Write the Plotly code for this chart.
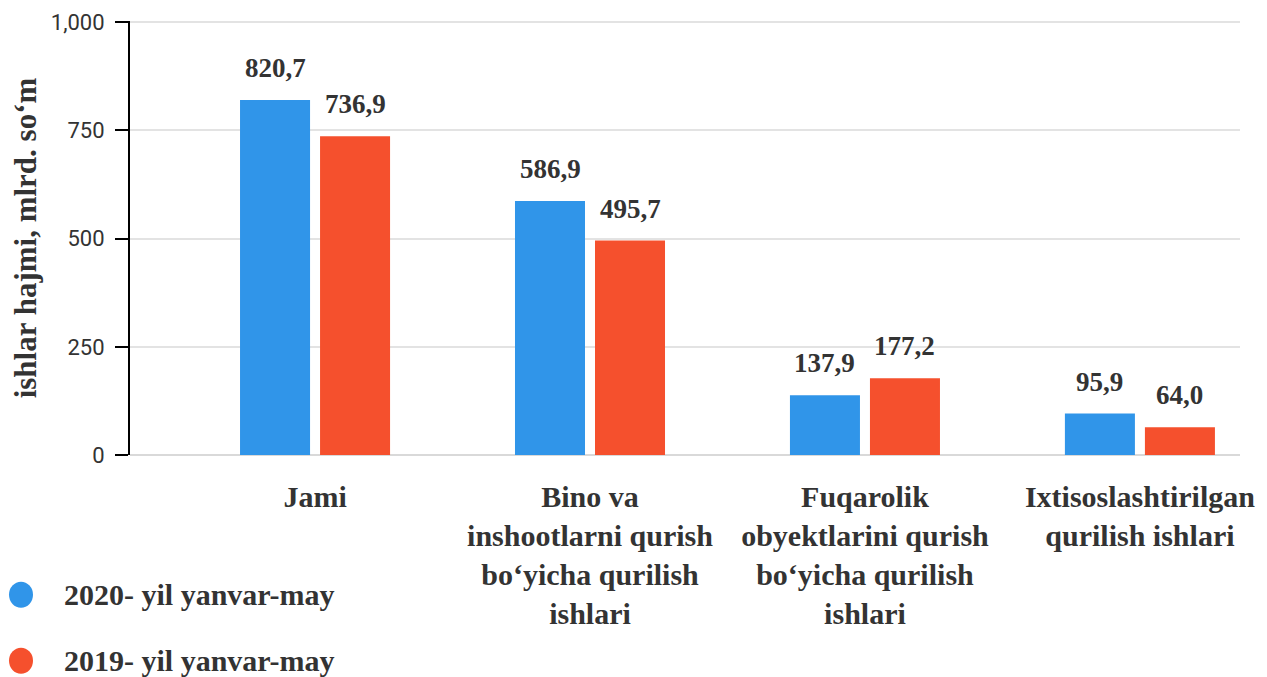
import plotly.graph_objects as go

categories = [
    "Jami",
    "Bino va<br>inshootlarni qurish<br>bo‘yicha qurilish<br>ishlari",
    "Fuqarolik<br>obyektlarini qurish<br>bo‘yicha qurilish<br>ishlari",
    "Ixtisoslashtirilgan<br>qurilish ishlari",
]
series_names = ["2020- yil yanvar-may", "2019- yil yanvar-may"]
values_2020 = [820.7, 586.9, 137.9, 95.9]
values_2019 = [736.9, 495.7, 177.2, 64.0]
colors = ["#3095e9", "#f5502d"]
y_ticks = [0, 250, 500, 750, 1000]

SERIF = "Liberation Serif, Times New Roman, serif"
TEXT = "#333333"


def fmt(v):
    return f"{v:.1f}".replace(".", ",")


fig = go.Figure()
for name, vals, col in zip(series_names, [values_2020, values_2019], colors):
    fig.add_trace(go.Bar(
        x=categories, y=vals, name=name,
        marker=dict(color=col, line=dict(width=0)),
        showlegend=False,
        hoverinfo="skip",
    ))

# value labels above the bars
for shift, vals in zip([-40, 40], [values_2020, values_2019]):
    for cat, v in zip(categories, vals):
        fig.add_annotation(
            x=cat, y=v, text=fmt(v), showarrow=False,
            xshift=shift, yshift=15, yanchor="bottom",
            font=dict(family=SERIF, size=27, color=TEXT, weight="bold"),
        )

# legend drawn as circles + text under the axis
for i, (name, col) in enumerate(zip(series_names, colors)):
    yp = -0.322 - i * 0.152
    fig.add_shape(
        type="circle", xref="paper", yref="paper",
        xsizemode="pixel", ysizemode="pixel",
        xanchor=-0.0982, yanchor=yp,
        x0=-12, x1=12, y0=-13, y1=13,
        fillcolor=col, line=dict(width=0),
    )
    fig.add_annotation(
        xref="paper", yref="paper", x=-0.0613, y=yp,
        xanchor="left", yanchor="middle", showarrow=False,
        text=name,
        font=dict(family=SERIF, size=30, color=TEXT, weight="bold"),
    )

# page body adds an 8px margin, so the figure is 8px smaller on each lead edge
fig.update_layout(
    width=1259, height=669,
    margin=dict(l=122, r=27, t=13, b=222),
    paper_bgcolor="white", plot_bgcolor="white",
    barmode="group", bargap=0.418, bargroupgap=0.125,
)
fig.update_xaxes(
    type="category", range=[-0.673, 3.364], automargin=False,
    showline=False, ticks="", showgrid=False,
    tickfont=dict(family=SERIF, size=30, color=TEXT, weight="bold"),
    ticklabelstandoff=21,
)
fig.update_yaxes(
    range=[0, 1003], tickvals=y_ticks, tickformat=",d", automargin=False,
    showline=True, linecolor="black", linewidth=2,
    ticks="outside", ticklen=13, tickwidth=2, tickcolor="black",
    ticklabelstandoff=6, ticklabeloverflow="allow",
    showgrid=True, gridcolor="#e3e3e3", gridwidth=2,
    zeroline=True, zerolinecolor="#d9d9d9", zerolinewidth=2,
    tickfont=dict(family="Roboto, sans-serif", size=22, color=TEXT),
    title=dict(
        text="ishlar hajmi, mlrd. so‘m", standoff=8,
        font=dict(family=SERIF, size=31, color=TEXT, weight="bold"),
    ),
)

fig.write_html("out.html")
